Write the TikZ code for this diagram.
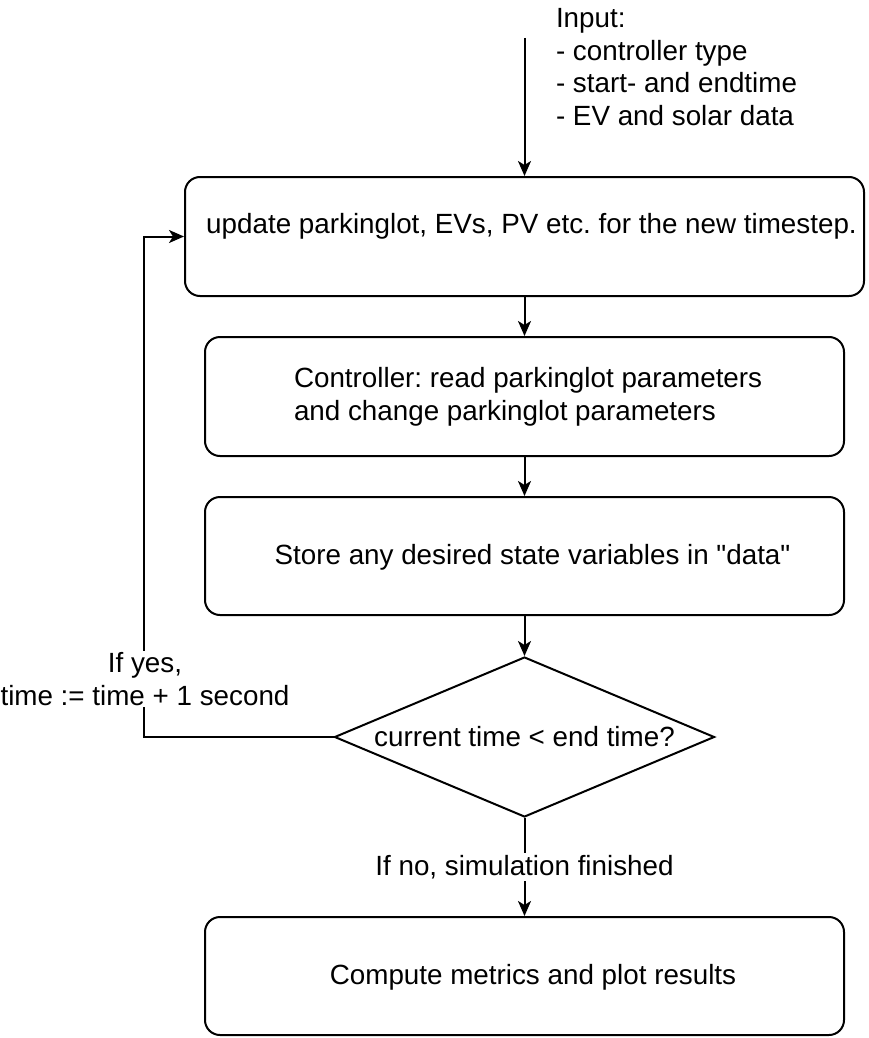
\documentclass[tikz,border=0pt]{standalone}
\usepackage{fontspec}
\setmainfont{Liberation Sans}[Ligatures=TeXOff]
\usetikzlibrary{arrows.meta,shapes.geometric}
\begin{document}
\frenchspacing
\begin{tikzpicture}[x=1pt,y=-1pt,
  line width=2pt,
  box/.style={draw, rounded corners=15pt, minimum width=639pt, minimum height=119pt, inner sep=0pt},
  txt/.style={font=\fontsize{27.8}{32.5}\selectfont, inner sep=0pt},
  lbl/.style={txt, fill=white, inner sep=2pt},
  arr/.style={-{Stealth[length=15pt,width=13pt,inset=4pt]}},
]
\useasboundingbox (0,0) rectangle (868,1038);
\node[box, minimum width=679pt] (b1) at (524.5,236.5) {};
\node[box] (b2) at (524.5,396.5) {};
\node[box, minimum height=118pt] (b3) at (524.5,556) {};
\node[draw, diamond, minimum width=380pt, minimum height=160pt, inner sep=0pt] (d) at (524.5,737) {};
\node[box, minimum height=118pt] (b4) at (524.5,976) {};

\node[txt] (t1) at (531.5,226) {update parkinglot, EVs, PV etc. for the new timestep.};
\node[txt, align=left, anchor=west] (t2) at (293,397) {Controller: read parkinglot parameters\\and change parkinglot parameters};
\node[txt] (t3) at (532.5,557) {Store any desired state variables in "data"};
\node[txt] (t4) at (533,977) {Compute metrics and plot results};
\node[txt] (t5) at (524.5,737) {current time < end time?};
\node[txt, align=left, anchor=west] (inp) at (555,67) {Input:\\- controller type\\- start- and endtime\\- EV and solar data};

\coordinate (in) at (524.5,38);
\draw[arr] (in) -- (b1.north);
\draw[arr] (b1) -- (b2);
\draw[arr] (b2) -- (b3);
\draw[arr] (b3) -- (d);
\draw[arr] (d.west) -- ++(-190,0) coordinate (c1) |- (b1.west);
\node[lbl, align=center] (l1) at (145,679) {If yes,\\time := time + 1 second};
\draw[arr] (d.south) -- (b4.north) node[lbl, midway] (l2) {If no, simulation finished};
\end{tikzpicture}
\end{document}
